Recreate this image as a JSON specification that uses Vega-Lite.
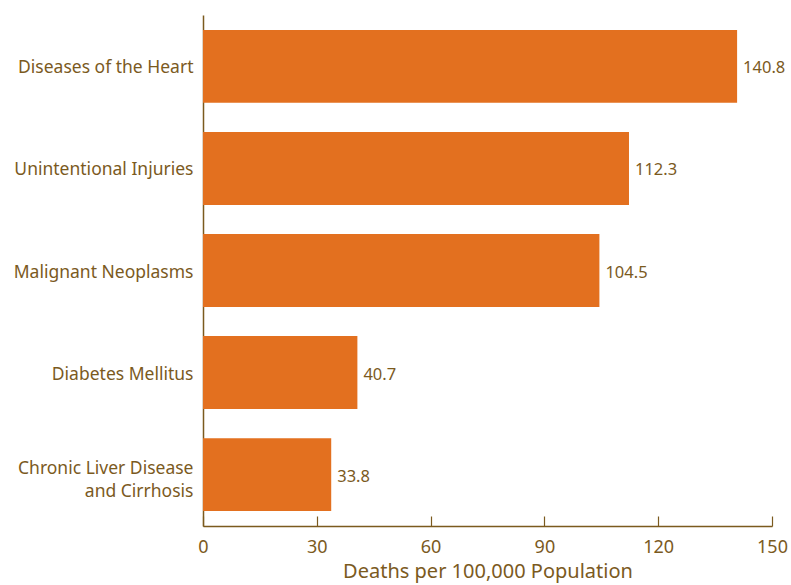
{
  "$schema": "https://vega.github.io/schema/vega-lite/v6.json",
  "width": 569,
  "height": 511,
  "autosize": {"type": "none"},
  "padding": {"left": 203, "top": 15, "right": 19, "bottom": 59},
  "background": "white",
  "data": {"values": [
    {"cause": "Diseases of the Heart", "rate": 140.8},
    {"cause": "Unintentional Injuries", "rate": 112.3},
    {"cause": "Malignant Neoplasms", "rate": 104.5},
    {"cause": "Diabetes Mellitus", "rate": 40.7},
    {"cause": "Chronic Liver Disease and Cirrhosis", "rate": 33.8}
  ]},
  "config": {
    "view": {"stroke": null},
    "font": "Noto Sans"
  },
  "encoding": {
    "y": {
      "field": "cause", "type": "nominal", "sort": null,
      "scale": {"paddingInner": 0.286, "paddingOuter": 0.147},
      "axis": {
        "title": null, "ticks": false, "domainColor": "#7B5A1E", "domainWidth": 1.5,
        "labelColor": "#7B5A1E", "labelFontSize": 17.5, "labelPadding": 10,
        "labelLimit": 250, "labelLineHeight": 23,
        "labelOffset": {"condition": {"test": "datum.value == 'Chronic Liver Disease and Cirrhosis'", "value": -6}, "value": 2},
        "labelExpr": "datum.value == 'Chronic Liver Disease and Cirrhosis' ? ['Chronic Liver Disease', 'and Cirrhosis'] : datum.value"
      }
    },
    "x": {
      "field": "rate", "type": "quantitative",
      "scale": {"domain": [0, 150], "nice": false},
      "axis": {
        "values": [0, 30, 60, 90, 120, 150], "grid": false,
        "title": "Deaths per 100,000 Population", "titleColor": "#7B5A1E",
        "titleFontSize": 20, "titleFontWeight": "normal", "titlePadding": 5,
        "labelColor": "#7B5A1E", "labelFontSize": 18, "labelPadding": 22,
        "labelFlush": false,
        "domainColor": "#7B5A1E", "domainWidth": 1.5,
        "tickColor": "#7B5A1E", "tickSize": -10, "tickWidth": 1.2
      }
    }
  },
  "layer": [
    {"mark": {"type": "bar", "color": "#E3701F"}},
    {
      "mark": {"type": "text", "align": "left", "dx": 6, "dy": 2, "fontSize": 16.5, "color": "#7B5A1E"},
      "encoding": {"text": {"field": "rate", "type": "quantitative", "format": ".1f"}}
    }
  ]
}
